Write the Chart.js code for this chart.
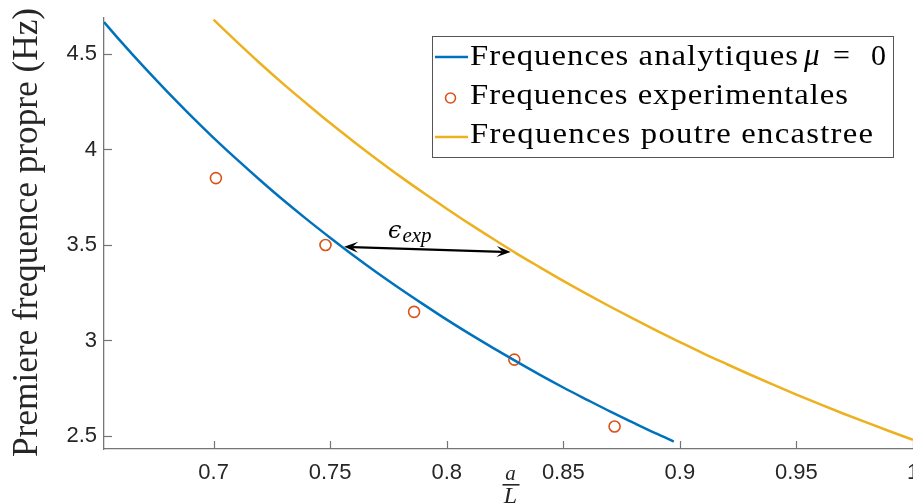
<!DOCTYPE html>
<html>
<head>
<meta charset="utf-8">
<script src="https://cdn.jsdelivr.net/npm/chart.js@4.4.1/dist/chart.umd.min.js"></script>
<style>
html,body{margin:0;padding:0;background:#fff;}
#wrap{width:913px;height:504px;position:relative;}
</style>
</head>
<body>
<div id="wrap"><canvas id="c" width="913" height="504"></canvas></div>
<script>
// ---- data ----
const xAnalytic = [0.653,0.66,0.67,0.68,0.69,0.70,0.71,0.72,0.73,0.74,0.75,0.76,0.77,0.78,0.79,0.80,0.81,0.82,0.83,0.84,0.85,0.86,0.87,0.88,0.89,0.8974];
const yAnalytic = [4.667,4.568,4.433,4.304,4.180,4.061,3.948,3.839,3.734,3.634,3.538,3.445,3.356,3.271,3.189,3.109,3.033,2.960,2.889,2.820,2.754,2.691,2.629,2.570,2.512,2.471];

const xClamped = [0.70,0.71,0.72,0.73,0.74,0.75,0.76,0.77,0.78,0.79,0.80,0.81,0.82,0.83,0.84,0.85,0.86,0.87,0.88,0.89,0.90,0.91,0.92,0.93,0.94,0.95,0.96,0.97,0.98,0.99,1.00];
const yClamped = [4.679,4.563,4.450,4.342,4.239,4.138,4.042,3.949,3.859,3.773,3.690,3.609,3.531,3.455,3.383,3.312,3.244,3.178,3.114,3.052,2.992,2.933,2.877,2.822,2.769,2.717,2.667,2.618,2.571,2.525,2.480];

const xExperimental = [0.701,0.748,0.786,0.829,0.872];
const yExperimental = [3.85,3.50,3.15,2.90,2.55];

const xTickValues = [0.7,0.75,0.8,0.85,0.9,0.95,1];
const xTickLabels = ["0.7","0.75","0.8","0.85","0.9","0.95","1"];
const yTickValues = [2.5,3,3.5,4,4.5];
const yTickLabels = ["2.5","3","3.5","4","4.5"];

const seriesNames = ["Frequences analytiques", "Frequences experimentales", "Frequences poutre encastree"];
const yTitle = "Premiere frequence propre (Hz)";
// error arrow between analytic and clamped curves (data coordinates)
const arrowStart = [0.756, 3.490];
const arrowEnd = [0.8274, 3.463];
const arrowLabelAt = [0.785, 3.568];

// ---- styles ----
const BLUE = '#0072BD', ORANGE = '#D95319', YELLOW = '#EDB120';
const AXIS = '#757575', TXT = '#262626';
const SERIF = '"Liberation Serif", "DejaVu Serif", serif';
const SANS = '"Liberation Sans", Arial, sans-serif';

const toPts = (xs, ys) => xs.map((x, i) => ({x, y: ys[i]}));

// draw text widened (slight horizontal stretch + letter spacing) to a target width
function wideText(ctx, text, x, y, target, maxStretch) {
  ctx.letterSpacing = '0px';
  const w = ctx.measureText(text).width;
  const sx = Math.max(1, Math.min(maxStretch, target / w));
  const sp = (target - w * sx) / Math.max(1, text.length - 1) / sx;
  ctx.save();
  ctx.translate(x, y);
  ctx.scale(sx, 1);
  ctx.letterSpacing = sp.toFixed(2) + 'px';
  ctx.fillText(text, 0, 0);
  ctx.restore();
  ctx.letterSpacing = '0px';
}

const decor = {
  id: 'decor',
  afterDraw(chart) {
    const ctx = chart.ctx, xs = chart.scales.x, ys = chart.scales.y, a = chart.chartArea;
    ctx.save();
    // inward ticks
    ctx.strokeStyle = AXIS; ctx.lineWidth = 1.2;
    xTickValues.forEach(v => {
      const px = Math.round(xs.getPixelForValue(v)) + 0.5;
      ctx.beginPath(); ctx.moveTo(px, a.bottom); ctx.lineTo(px, a.bottom - 8); ctx.stroke();
    });
    yTickValues.forEach(v => {
      const py = Math.round(ys.getPixelForValue(v)) + 0.5;
      ctx.beginPath(); ctx.moveTo(a.left, py); ctx.lineTo(a.left + 8, py); ctx.stroke();
    });

    // y title
    ctx.save();
    ctx.translate(37, 0);
    ctx.rotate(-Math.PI / 2);
    ctx.fillStyle = TXT;
    ctx.font = '35px ' + SERIF;
    ctx.textAlign = 'left'; ctx.textBaseline = 'alphabetic';
    wideText(ctx, yTitle, -457, 0, 449, 1.04);
    ctx.restore();

    // x title a / L
    const cx = (a.left + a.right) / 2 + 2;
    ctx.fillStyle = TXT; ctx.textAlign = 'center';
    ctx.font = 'italic 21px ' + SERIF;
    ctx.fillText('a', cx, 480);
    ctx.fillRect(cx - 8, 484, 17, 1.6);
    ctx.font = 'italic 24px ' + SERIF;
    ctx.fillText('L', cx, 503);

    // arrow
    const x1 = xs.getPixelForValue(arrowStart[0]), y1 = ys.getPixelForValue(arrowStart[1]);
    const x2 = xs.getPixelForValue(arrowEnd[0]), y2 = ys.getPixelForValue(arrowEnd[1]);
    const ang = Math.atan2(y2 - y1, x2 - x1);
    ctx.strokeStyle = '#000'; ctx.fillStyle = '#000'; ctx.lineWidth = 2.3;
    ctx.beginPath(); ctx.moveTo(x1 + 8 * Math.cos(ang), y1 + 8 * Math.sin(ang));
    ctx.lineTo(x2 - 8 * Math.cos(ang), y2 - 8 * Math.sin(ang)); ctx.stroke();
    const head = (hx, hy, dir) => {
      const L = 14, W = 5.5;
      ctx.beginPath();
      ctx.moveTo(hx, hy);
      ctx.lineTo(hx - L * Math.cos(dir) + W * Math.sin(dir), hy - L * Math.sin(dir) - W * Math.cos(dir));
      ctx.lineTo(hx - 8 * Math.cos(dir), hy - 8 * Math.sin(dir));
      ctx.lineTo(hx - L * Math.cos(dir) - W * Math.sin(dir), hy - L * Math.sin(dir) + W * Math.cos(dir));
      ctx.closePath(); ctx.fill();
    };
    head(x2, y2, ang);
    head(x1, y1, ang + Math.PI);

    // epsilon label
    const lx = xs.getPixelForValue(arrowLabelAt[0]), ly = ys.getPixelForValue(arrowLabelAt[1]);
    ctx.fillStyle = '#000'; ctx.textAlign = 'left'; ctx.textBaseline = 'alphabetic';
    const EPSF = 'italic 24px "DejaVu Serif", serif';
    const SUBF = 'italic 21px ' + SERIF;
    ctx.font = EPSF;
    const eps = '\u03F5';
    const ew = ctx.measureText(eps).width;
    ctx.font = SUBF;
    const sw = ctx.measureText('exp').width;
    const start = lx - (ew + sw + 1) / 2 - 2;
    ctx.font = EPSF;
    ctx.fillText(eps, start, ly + 6);
    ctx.font = SUBF;
    ctx.fillText('exp', start + ew + 1, ly + 10);

    // legend
    const bx = 432, by = 36, bw = 461, bh = 121;
    ctx.fillStyle = '#fff'; ctx.fillRect(bx, by, bw, bh);
    ctx.strokeStyle = '#555'; ctx.lineWidth = 1;
    ctx.strokeRect(bx + 0.5, by + 0.5, bw, bh);
    const rows = [57, 98, 137];
    ctx.lineWidth = 2.5;
    ctx.strokeStyle = BLUE;
    ctx.beginPath(); ctx.moveTo(435, rows[0]); ctx.lineTo(468, rows[0]); ctx.stroke();
    ctx.strokeStyle = YELLOW;
    ctx.beginPath(); ctx.moveTo(435, rows[2]); ctx.lineTo(468, rows[2]); ctx.stroke();
    ctx.strokeStyle = ORANGE; ctx.lineWidth = 1.6;
    ctx.beginPath(); ctx.arc(450.5, rows[1], 5, 0, Math.PI * 2); ctx.stroke();
    ctx.fillStyle = '#000';
    const LF = '30px ' + SERIF;
    ctx.font = LF;
    wideText(ctx, seriesNames[0], 470, 65, 328, 1.09);
    ctx.font = 'italic 31px ' + SERIF;
    ctx.fillText('\u03BC', 804, 65);
    ctx.font = LF;
    ctx.fillText('=', 833, 65);
    ctx.fillText('0', 871, 65);
    wideText(ctx, seriesNames[1], 470, 104, 378, 1.09);
    wideText(ctx, seriesNames[2], 470, 143, 403, 1.09);
    ctx.restore();
  }
};

new Chart(document.getElementById('c'), {
  type: 'scatter',
  data: {
    datasets: [
      { label: seriesNames[0] + ' μ = 0', data: toPts(xAnalytic, yAnalytic), showLine: true,
        borderColor: BLUE, borderWidth: 2.5, pointRadius: 0, cubicInterpolationMode: 'monotone', fill: false },
      { label: seriesNames[1], data: toPts(xExperimental, yExperimental), showLine: false,
        borderColor: ORANGE, backgroundColor: 'rgba(0,0,0,0)', pointRadius: 5.5, pointBorderWidth: 1.6, pointStyle: 'circle' },
      { label: seriesNames[2], data: toPts(xClamped, yClamped), showLine: true,
        borderColor: YELLOW, borderWidth: 2.5, pointRadius: 0, cubicInterpolationMode: 'monotone', fill: false }
    ]
  },
  options: {
    responsive: false,
    animation: false,
    events: [],
    layout: { autoPadding: false, padding: { top: 18, right: 0, left: 0, bottom: 0 } },
    plugins: { legend: { display: false }, tooltip: { enabled: false } },
    scales: {
      x: {
        type: 'linear', min: 0.653, max: 1.0,
        grid: { display: false, drawTicks: false },
        border: { display: true, color: AXIS, width: 1.3 },
        afterBuildTicks: s => { s.ticks = xTickValues.map(v => ({ value: v })); },
        afterFit: s => { s.height = 55; s.paddingLeft = 0; s.paddingRight = 0; },
        ticks: { padding: 11, color: TXT, font: { family: SANS, size: 22 },
          maxRotation: 0, autoSkip: false,
          callback: (v) => { const i = xTickValues.indexOf(v); return i >= 0 ? xTickLabels[i] : ''; } }
      },
      y: {
        type: 'linear', min: 2.432, max: 4.688,
        grid: { display: false, drawTicks: false },
        border: { display: true, color: AXIS, width: 1.3 },
        afterBuildTicks: s => { s.ticks = yTickValues.map(v => ({ value: v })); },
        afterFit: s => { s.width = 104; s.paddingTop = 0; s.paddingBottom = 0; },
        ticks: { padding: 7, color: TXT, font: { family: SANS, size: 22 }, autoSkip: false,
          callback: (v) => { const i = yTickValues.indexOf(v); return i >= 0 ? yTickLabels[i] : ''; } }
      }
    }
  },
  plugins: [decor]
});
</script>
</body>
</html>
